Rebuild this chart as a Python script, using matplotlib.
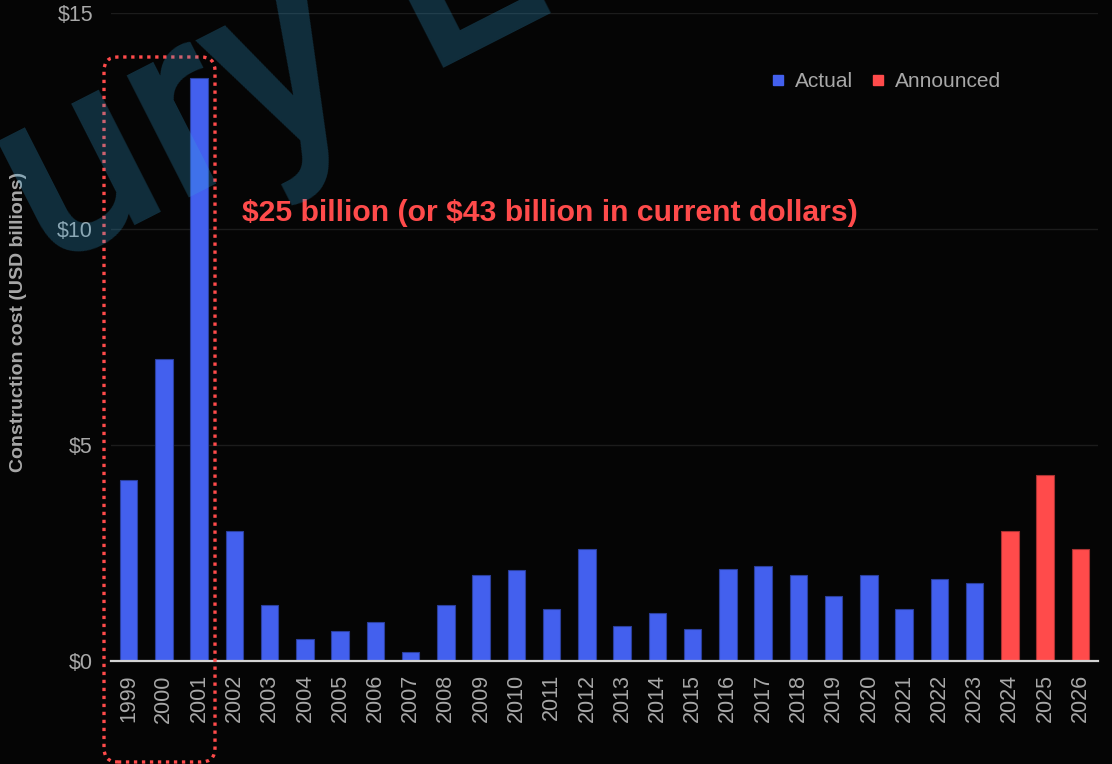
import matplotlib
matplotlib.use("Agg")
import matplotlib.pyplot as plt
from matplotlib.patches import FancyBboxPatch
from matplotlib.lines import Line2D

# Construction cost by year (USD billions)
years = [str(y) for y in range(1999, 2027)]
actual_costs = [4.2, 7.0, 13.5, 3.0, 1.3, 0.5, 0.7, 0.9, 0.2, 1.3, 2.0, 2.1, 1.2, 2.6,
                0.8, 1.1, 0.75, 2.13, 2.2, 2.0, 1.5, 2.0, 1.2, 1.9, 1.8]
announced_costs = [3.0, 4.3, 2.6]
y_ticks = [0, 5, 10, 15]
y_tick_labels = [r"\$0", r"\$5", r"\$10", r"\$15"]
legend_labels = ["Actual", "Announced"]
note_text = "$25 billion (or $43 billion in current dollars)"
y_title = "Construction cost (USD billions)"

BG = "#050505"
BLUE = "#4360ee"
RED = "#ff4b4b"
GREY = "#a8a8a8"

plt.rcParams["font.family"] = ["Liberation Sans", "DejaVu Sans"]

W, H = 1112, 764
fig = plt.figure(figsize=(W / 100, H / 100), dpi=100, facecolor=BG)
ax = fig.add_axes([111 / W, 1 - 661 / H, (1098 - 111) / W, (661 - 13) / H], facecolor=BG)

n_act = len(actual_costs)
x_act = list(range(n_act))
x_ann = list(range(n_act, n_act + len(announced_costs)))

ax.bar(x_act, actual_costs, width=0.5, color=BLUE, edgecolor="#2b3f9c", linewidth=0.8, zorder=3)
ax.bar(x_ann, announced_costs, width=0.5, color=RED, edgecolor="#a83232", linewidth=0.8, zorder=3)

ax.set_xlim(-0.5, len(years) - 0.5)
ax.set_ylim(0, 15)

ax.set_yticks(y_ticks)
ax.set_yticklabels(y_tick_labels)
ax.set_xticks(range(len(years)))
ax.set_xticklabels(years, rotation=90)
ax.tick_params(axis="y", length=0, pad=13, labelsize=15.5, labelcolor=GREY)
ax.tick_params(axis="x", length=0, pad=9.5, labelsize=15.5, labelcolor=GREY)

ax.grid(axis="y", color="#1c1c1c", linewidth=1.0, zorder=0)
ax.set_axisbelow(True)
for side in ("top", "right", "left"):
    ax.spines[side].set_visible(False)
ax.spines["bottom"].set_color("#d4d4d4")
ax.spines["bottom"].set_linewidth(1.6)
ax.spines["bottom"].set_zorder(4)

ax.set_ylabel(y_title, fontsize=14, fontweight="bold", color=GREY)
ax.yaxis.set_label_coords((19 - 111) / 987, (661 - 322) / 648)
ax.yaxis.label.set_va("center")

# Legend with square markers
handles = [Line2D([], [], marker="s", linestyle="none", markersize=7.5,
                  markerfacecolor=c, markeredgecolor=c) for c in (BLUE, RED)]
leg = ax.legend(handles, legend_labels, loc="upper right", bbox_to_anchor=(1011 / W, 1 - 62 / H),
                bbox_transform=fig.transFigure, ncol=2, frameon=False, fontsize=15,
                handlelength=0.8, handletextpad=0.4, columnspacing=0.8, borderpad=0)
for t in leg.get_texts():
    t.set_color(GREY)

# Callout note for the 1999-2001 spike
ax.text(3.216, 10.185, note_text, color=RED, fontsize=21.7, fontweight="bold",
        ha="left", va="baseline", zorder=5, parse_math=False)

# Dotted rounded frame around the 1999-2001 bars and their year labels
x0, y0 = 104, H - 762
x1, y1 = 215, H - 57
frame = FancyBboxPatch((x0 / W, y0 / H), (x1 - x0) / W, (y1 - y0) / H,
                       boxstyle="round,pad=0,rounding_size=0.0125",
                       mutation_aspect=W / H,
                       transform=fig.transFigure, fill=False, edgecolor=RED,
                       linewidth=2.4, linestyle=(0, (1, 1.4)), zorder=6)
fig.add_artist(frame)

# Watermark over everything
fig.text(47 / W, 1 - 270 / H, "ury E", family=["Roboto", "Liberation Sans"], fontweight=500,
         fontsize=187, color="#34a8e0", alpha=0.25, rotation=27,
         rotation_mode="anchor", ha="left", va="baseline", zorder=20)

fig.savefig("out.png", dpi=100, facecolor=BG)
